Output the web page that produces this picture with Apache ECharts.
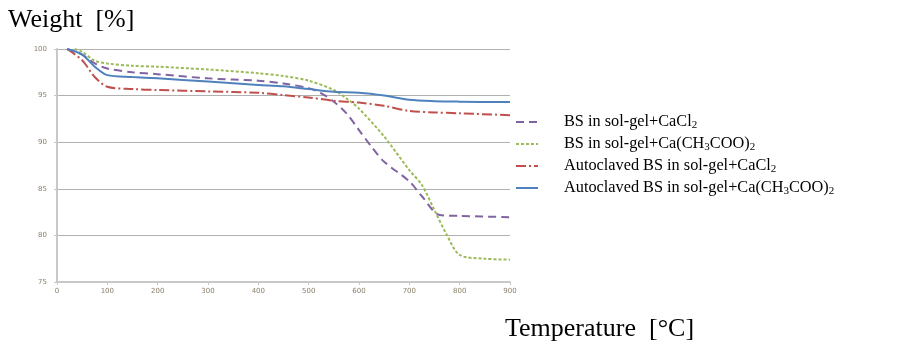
<!DOCTYPE html>
<html><head><meta charset="utf-8">
<script src="https://cdn.jsdelivr.net/npm/echarts@6/dist/echarts.min.js"></script>
<style>html,body{margin:0;padding:0;background:#fff}#c{width:900px;height:342px}</style>
</head><body><div id="c"></div>
<script>
const seriesNames = [
  'BS in sol-gel+CaCl2',
  'BS in sol-gel+Ca(CH3COO)2',
  'Autoclaved BS in sol-gel+CaCl2',
  'Autoclaved BS in sol-gel+Ca(CH3COO)2'
];
const legendRich = [
  'BS in sol-gel+CaCl{s|2}',
  'BS in sol-gel+Ca(CH{s|3}COO){s|2}',
  'Autoclaved BS in sol-gel+CaCl{s|2}',
  'Autoclaved BS in sol-gel+Ca(CH{s|3}COO){s|2}'
];
const bsCaCl2 = [[20,100],[50,99.4],[75,98.45],[100,97.9],[150,97.5],[200,97.3],[300,96.85],[400,96.6],[450,96.3],[500,95.8],[525,95.25],[550,94.35],[575,93.1],[600,91.3],[625,89.5],[650,87.9],[700,85.8],[725,84.2],[760,82.2],[800,82.1],[900,81.95]];
const bsCaAc = [[35,100],[50,99.7],[75,98.75],[100,98.45],[150,98.2],[200,98.1],[300,97.8],[400,97.4],[450,97.1],[500,96.6],[550,95.6],[575,94.7],[600,93.6],[650,90.6],[700,87.0],[725,85.4],[750,82.7],[775,80.0],[800,77.9],[850,77.5],[900,77.4]];
const autoCaCl2 = [[20,100],[50,98.8],[75,97.0],[100,95.95],[150,95.7],[200,95.6],[300,95.45],[400,95.3],[450,95.05],[500,94.8],[550,94.45],[600,94.25],[650,93.9],[700,93.35],[750,93.2],[800,93.1],[900,92.9]];
const autoCaAc = [[20,100],[50,99.4],[75,98.1],[100,97.2],[150,97.0],[200,96.85],[300,96.5],[400,96.15],[450,96.0],[500,95.7],[550,95.4],[600,95.3],[650,95.0],[700,94.55],[750,94.4],[800,94.35],[900,94.3]];
const yTicks = {min:75, max:100, interval:5};
const xTicks = {min:0, max:900, interval:100};

const colors = ['#8064a2','#9bbb59','#c0504d','#4f81bd'];
const dashes = [[8,5],[3,2],[10,3,2,3],'solid'];
const datas = [bsCaCl2, bsCaAc, autoCaCl2, autoCaAc];

const chart = echarts.init(document.getElementById('c'));
chart.setOption({
  animation:false,
  grid:{left:57,right:390,top:49,bottom:60},
  xAxis:{type:'value',min:xTicks.min,max:xTicks.max,interval:xTicks.interval,
    axisLine:{show:true,lineStyle:{color:'#c8c8c8',width:2}},
    axisTick:{show:true,length:3,lineStyle:{color:'#c8c8c8'}},
    axisLabel:{fontSize:7,color:'#8a7f6a',margin:6,fontFamily:'DejaVu Sans'},
    splitLine:{show:false}},
  yAxis:{type:'value',min:yTicks.min,max:yTicks.max,interval:yTicks.interval,
    axisLine:{show:true,lineStyle:{color:'#c8c8c8',width:2}},
    axisTick:{show:true,length:3,lineStyle:{color:'#c8c8c8'}},
    axisLabel:{fontSize:7,color:'#8a7f6a',margin:10,fontFamily:'DejaVu Sans'},
    splitLine:{show:true,lineStyle:{color:'#b0b0b0',width:1.2}}},
  legend:{orient:'vertical',left:510,top:108,itemWidth:22,itemHeight:14,itemGap:4,
    data:seriesNames,
    itemStyle:{opacity:0},
    formatter:function(n){return legendRich[seriesNames.indexOf(n)];},
    textStyle:{fontFamily:'Liberation Serif',fontSize:16.3,color:'#000',padding:[0,0,0,21],lineHeight:18,
      rich:{s:{fontSize:11,fontFamily:'Liberation Serif',color:'#000',verticalAlign:'bottom',padding:[6,0,0,0]}}}},
  graphic:[
    {type:'text',left:8,top:7,style:{text:'Weight  [%]',font:'26px "Liberation Serif"',fill:'#000'}},
    {type:'text',left:505,top:316,style:{text:'Temperature  [°C]',font:'26px "Liberation Serif"',fill:'#000'}}
  ],
  series: datas.map((d,i)=>({
    name:seriesNames[i],type:'line',data:d,showSymbol:false,symbol:'none',
    smooth:0.3,
    lineStyle:{color:colors[i],width:2,type:dashes[i]},
    itemStyle:{color:colors[i]}
  }))
});
</script></body></html>
